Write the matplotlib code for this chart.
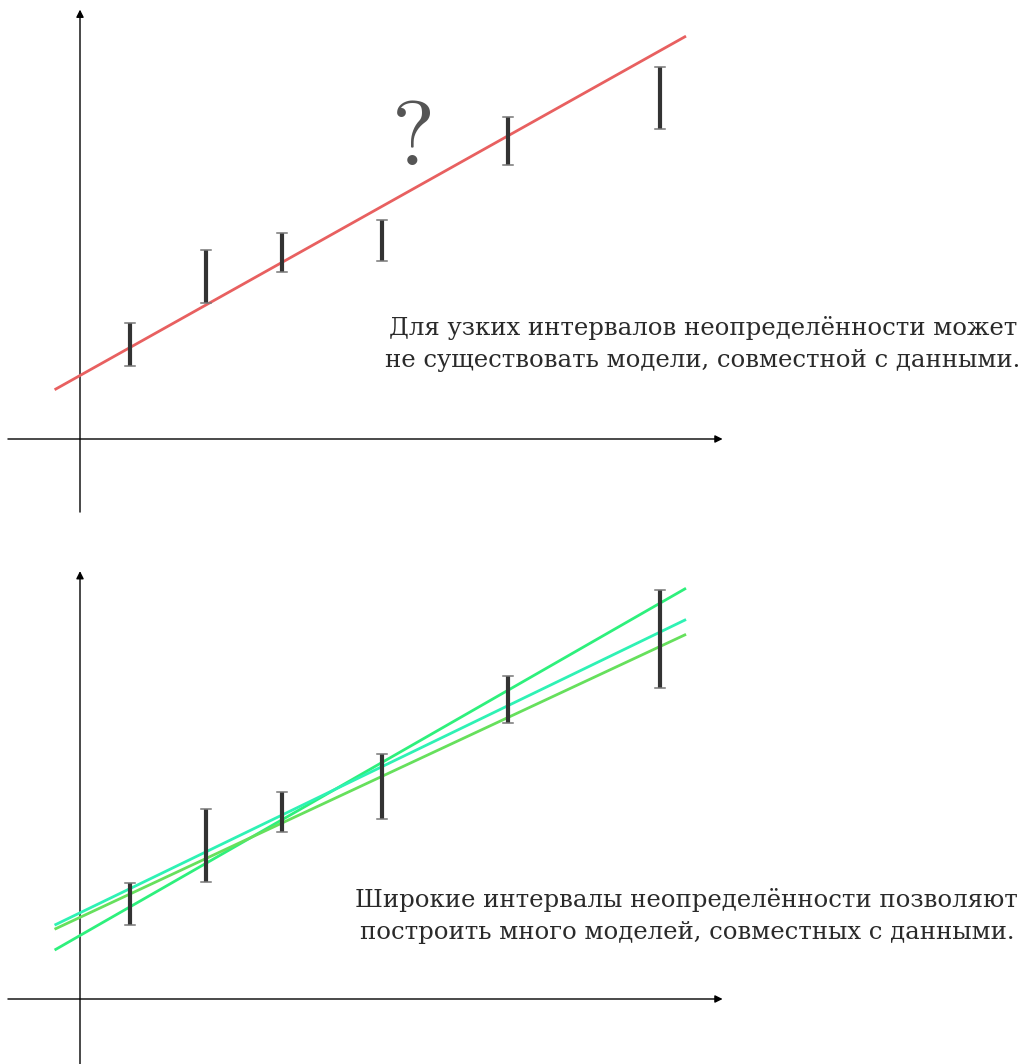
import matplotlib
matplotlib.use("Agg")
import matplotlib.pyplot as plt

# data, in plot units (1 unit ~ 50.4 px)
x_pts = [1.0, 2.5, 4.0, 6.0, 8.5, 11.5]

# narrow intervals (top panel)
narrow_lo = [1.45, 2.70, 3.31, 3.53, 5.44, 6.15]
narrow_hi = [2.30, 3.75, 4.09, 4.35, 6.39, 7.38]

# wide intervals (bottom panel)
wide_lo = [1.47, 2.32, 3.31, 3.57, 5.48, 6.17]
wide_hi = [2.30, 3.77, 4.11, 4.86, 6.41, 8.12]

# candidate models: (intercept, slope)
bad_model = (1.26, 0.56)
good_models = [(1.26, 0.573), (1.71, 0.484), (1.62, 0.467)]
good_colors = ["#2ef07c", "#2ef2b4", "#66e05c"]

line_x = [-0.48, 12.0]

top_text = "Для узких интервалов неопределённости может\nне существовать модели, совместной с данными."
bottom_text = "Широкие интервалы неопределённости позволяют\nпостроить много моделей, совместных с данными."

W, H = 1027, 1064
U = 50.4  # px per unit
FONT = ["DejaVu Serif"]

fig = plt.figure(figsize=(W / 100, H / 100), dpi=100)


def make_axes(px_top, px_bottom, origin_px):
    ax = fig.add_axes([0, 1 - px_bottom / H, 1, (px_bottom - px_top) / H])
    ox, oy = origin_px
    ax.set_xlim(-ox / U, (W - ox) / U)
    ax.set_ylim((oy - px_bottom) / U, (oy - px_top) / U)
    ax.axis("off")
    return ax


def draw_frame(ax, y_bottom, y_top):
    arrow = dict(arrowstyle="-|>", lw=1.0, color="black", mutation_scale=11,
                 shrinkA=0, shrinkB=0)
    ax.annotate("", xy=(12.75, 0), xytext=(-1.43, 0), arrowprops=arrow)
    ax.annotate("", xy=(0, y_top), xytext=(0, y_bottom), arrowprops=arrow)


def draw_bars(ax, lo, hi):
    for x, a, b in zip(x_pts, lo, hi):
        ax.plot([x, x], [a, b], color="#333333", lw=3.0, solid_capstyle="butt", zorder=4)
        for yy in (a, b):
            ax.plot([x - 0.1, x + 0.1], [yy, yy], color="#777777", lw=1.1, zorder=4)


def model_line(ax, b0, b1, color):
    ys = [b0 + b1 * x for x in line_x]
    ax.plot(line_x, ys, color=color, lw=2.0, zorder=3)


# top panel
ax1 = make_axes(0, 530, (80, 439))
draw_frame(ax1, -1.45, 8.52)
model_line(ax1, *bad_model, "#e86060")
draw_bars(ax1, narrow_lo, narrow_hi)
ax1.text(6.57, 5.44, r"$?$", fontsize=66, color="#555555", ha="center", va="baseline",
         math_fontfamily="cm")
ax1.text(12.36, 1.88, top_text, fontsize=17.6, ha="center", va="center",
         linespacing=1.5, color="#2a2a2a", family=FONT)

# bottom panel
ax2 = make_axes(540, 1064, (80, 999))
draw_frame(ax2, -1.5, 8.49)
for (b0, b1), c in zip(good_models, good_colors):
    model_line(ax2, b0, b1, c)
draw_bars(ax2, wide_lo, wide_hi)
ax2.text(12.04, 1.65, bottom_text, fontsize=17.6, ha="center", va="center",
         linespacing=1.5, color="#2a2a2a", family=FONT)

fig.savefig("out.png", dpi=100)
